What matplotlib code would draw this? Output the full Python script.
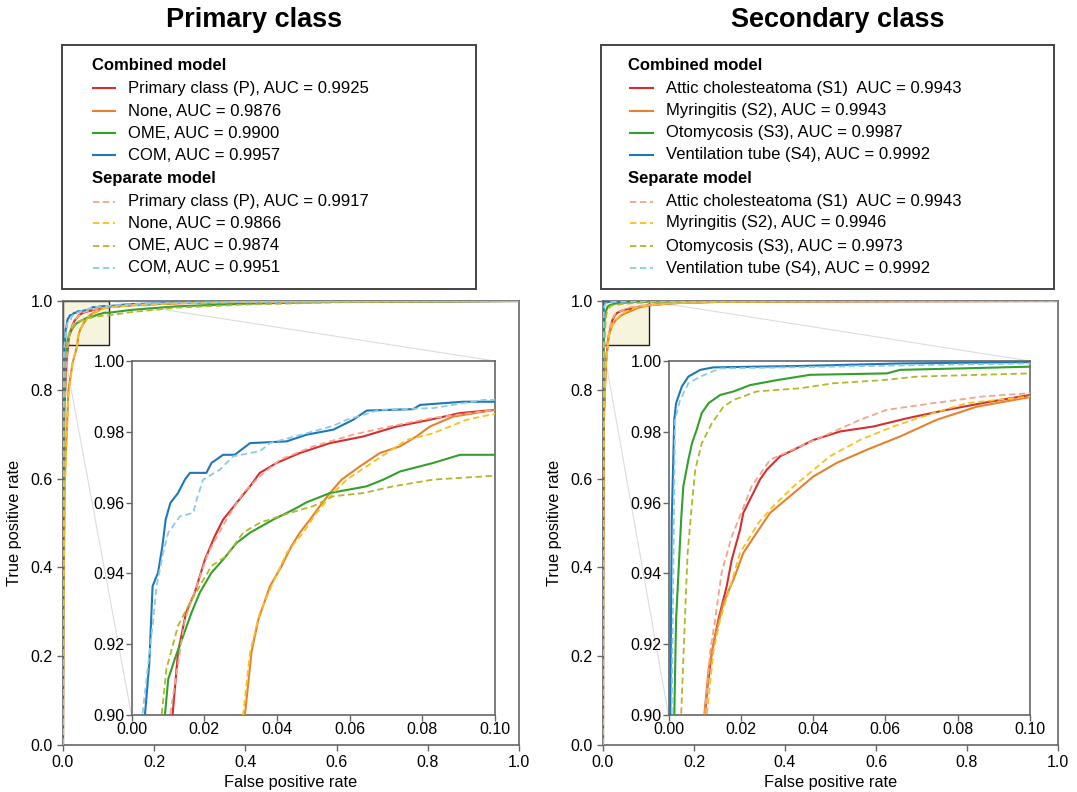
import matplotlib.pyplot as plt
from matplotlib.patches import Rectangle, ConnectionPatch
from matplotlib.lines import Line2D

plt.rcParams['font.family'] = ['Liberation Sans', 'DejaVu Sans']

W, H = 1077, 792

# ---------------- Primary class (left panel) ----------------
p_labels = ['Primary class (P)', 'None', 'OME', 'COM']
p_auc_comb = [0.9925, 0.9876, 0.9900, 0.9957]
p_auc_sep = [0.9917, 0.9866, 0.9874, 0.9951]

# combined model
pP_fpr = [0, 0.0005, 0.003, 0.0075, 0.0113, 0.0128, 0.0150, 0.0174, 0.0202, 0.0229, 0.0252, 0.0289, 0.0326,
          0.0353, 0.0399, 0.0463, 0.0546, 0.0638, 0.0729, 0.0821, 0.0904, 0.1000, 0.15, 0.25, 0.4, 0.6, 1.0]
pP_tpr = [0, 0.45, 0.75, 0.86, 0.900, 0.9177, 0.9289, 0.9346, 0.9439, 0.9505, 0.9552, 0.9599, 0.9646,
          0.9684, 0.9712, 0.9740, 0.9768, 0.9787, 0.9815, 0.9834, 0.9853, 0.9862, 0.991, 0.995, 0.998, 0.999, 1.0]
pN_fpr = [0, 0.001, 0.004, 0.012, 0.021, 0.0312, 0.0330, 0.0349, 0.0381, 0.0413, 0.0440, 0.0463, 0.0491, 0.0518,
          0.0546, 0.0578, 0.0628, 0.0683, 0.0739, 0.0784, 0.0821, 0.0885, 0.1000, 0.15, 0.25, 0.4, 0.6, 1.0]
pN_tpr = [0, 0.3, 0.6, 0.8, 0.86, 0.900, 0.9177, 0.9270, 0.9364, 0.9421, 0.9477, 0.9515, 0.9552, 0.9590,
          0.9627, 0.9665, 0.9702, 0.9740, 0.9759, 0.9787, 0.9815, 0.9843, 0.9862, 0.990, 0.995, 0.998, 0.999, 1.0]
pO_fpr = [0, 0.0005, 0.002, 0.005, 0.0092, 0.0101, 0.0119, 0.0142, 0.0165, 0.0188, 0.0220, 0.0252, 0.0289, 0.0326,
          0.0390, 0.0445, 0.0482, 0.0546, 0.0647, 0.0693, 0.0739, 0.0830, 0.0904, 0.1000, 0.15, 0.25, 0.4, 0.6, 1.0]
pO_tpr = [0, 0.5, 0.78, 0.87, 0.900, 0.9101, 0.9158, 0.9223, 0.9289, 0.9346, 0.9402, 0.9439, 0.9486, 0.9515,
          0.9552, 0.9580, 0.9601, 0.9627, 0.9646, 0.9665, 0.9688, 0.9712, 0.9735, 0.9735, 0.980, 0.988, 0.994, 0.998, 1.0]
pC_fpr = [0, 0.0003, 0.001, 0.002, 0.0037, 0.0049, 0.0058, 0.0073, 0.0085, 0.0094, 0.0107, 0.0128, 0.0147, 0.0161,
          0.0206, 0.0220, 0.0252, 0.0284, 0.0326, 0.0427, 0.0482, 0.0555, 0.0610, 0.0647, 0.0775, 0.0794, 0.0913,
          0.1000, 0.15, 0.25, 0.4, 0.6, 1.0]
pC_tpr = [0, 0.55, 0.8, 0.87, 0.900, 0.9148, 0.9364, 0.9402, 0.9477, 0.9552, 0.9599, 0.9627, 0.9665, 0.9684,
          0.9684, 0.9712, 0.9735, 0.9735, 0.9768, 0.9773, 0.9792, 0.9806, 0.9834, 0.9860, 0.9864, 0.9876, 0.9885,
          0.9885, 0.993, 0.996, 0.998, 0.999, 1.0]

# separate model
pP_fpr_s = [0, 0.0005, 0.003, 0.007, 0.0106, 0.0147, 0.0179, 0.0211, 0.0261, 0.0307, 0.0353, 0.0408, 0.0500,
            0.0610, 0.0711, 0.0821, 0.1000, 0.15, 0.25, 0.4, 0.6, 1.0]
pP_tpr_s = [0, 0.42, 0.74, 0.86, 0.900, 0.9270, 0.9364, 0.9458, 0.9552, 0.9627, 0.9674, 0.9721, 0.9759,
            0.9792, 0.9815, 0.9838, 0.9862, 0.991, 0.995, 0.998, 0.999, 1.0]
pN_fpr_s = [0, 0.001, 0.004, 0.012, 0.021, 0.0307, 0.0326, 0.0353, 0.0385, 0.0427, 0.0472, 0.0509, 0.0555, 0.0592,
            0.0702, 0.0757, 0.0830, 0.0922, 0.1000, 0.15, 0.25, 0.4, 0.6, 1.0]
pN_tpr_s = [0, 0.28, 0.58, 0.79, 0.86, 0.900, 0.9177, 0.9289, 0.9364, 0.9458, 0.9515, 0.9571, 0.9627, 0.9665,
            0.9740, 0.9777, 0.9796, 0.9834, 0.9851, 0.990, 0.995, 0.998, 0.999, 1.0]
pO_fpr_s = [0, 0.0005, 0.002, 0.005, 0.0083, 0.0096, 0.0128, 0.0156, 0.0220, 0.0261, 0.0307, 0.0353, 0.0436, 0.0500,
            0.0555, 0.0638, 0.0720, 0.0830, 0.1000, 0.15, 0.25, 0.4, 0.6, 1.0]
pO_tpr_s = [0, 0.5, 0.78, 0.87, 0.900, 0.9130, 0.9252, 0.9308, 0.9421, 0.9449, 0.9515, 0.9543, 0.9571, 0.9590,
            0.9618, 0.9627, 0.9646, 0.9665, 0.9676, 0.975, 0.985, 0.992, 0.997, 1.0]
pC_fpr_s = [0, 0.0003, 0.001, 0.0018, 0.0030, 0.0060, 0.0069, 0.0087, 0.0101, 0.0133, 0.0170, 0.0179, 0.0197, 0.0243,
            0.0280, 0.0353, 0.0381, 0.0482, 0.0555, 0.0592, 0.0683, 0.0830, 0.0968, 0.1000, 0.15, 0.25, 0.4, 0.6, 1.0]
pC_tpr_s = [0, 0.55, 0.8, 0.87, 0.900, 0.9270, 0.9364, 0.9458, 0.9515, 0.9561, 0.9571, 0.9608, 0.9665, 0.9693,
            0.9731, 0.9745, 0.9768, 0.9796, 0.9817, 0.9834, 0.9862, 0.9867, 0.9890, 0.9890, 0.993, 0.996, 0.998, 0.999, 1.0]

# ---------------- Secondary class (right panel) ----------------
s_labels = ['Attic cholesteatoma (S1) ', 'Myringitis (S2),', 'Otomycosis (S3),', 'Ventilation tube (S4),']
s_auc_comb = [0.9943, 0.9943, 0.9987, 0.9992]
s_auc_sep = [0.9943, 0.9946, 0.9973, 0.9992]

s1_fpr = [0, 0.0005, 0.002, 0.006, 0.0101, 0.0108, 0.0120, 0.0138, 0.0161, 0.0175, 0.0198, 0.0207, 0.0230, 0.0253,
          0.0272, 0.0309, 0.0346, 0.0401, 0.0475, 0.0567, 0.0659, 0.0770, 0.0889, 0.1000, 0.15, 0.25, 0.4, 0.6, 1.0]
s1_tpr = [0, 0.45, 0.75, 0.86, 0.900, 0.9083, 0.9177, 0.9270, 0.9364, 0.9439, 0.9524, 0.9571, 0.9618, 0.9665,
          0.9693, 0.9731, 0.9749, 0.9777, 0.9801, 0.9815, 0.9838, 0.9862, 0.9885, 0.9904, 0.995, 0.998, 0.999, 0.9995, 1.0]
s2_fpr = [0, 0.0005, 0.002, 0.006, 0.0099, 0.0111, 0.0129, 0.0152, 0.0180, 0.0207, 0.0244, 0.0281, 0.0336, 0.0401,
          0.0465, 0.0548, 0.0641, 0.0742, 0.0853, 0.1000, 0.15, 0.25, 0.4, 0.6, 1.0]
s2_tpr = [0, 0.42, 0.73, 0.85, 0.900, 0.9130, 0.9223, 0.9317, 0.9383, 0.9458, 0.9515, 0.9571, 0.9618, 0.9674,
          0.9712, 0.9749, 0.9787, 0.9834, 0.9871, 0.9898, 0.995, 0.998, 0.999, 0.9995, 1.0]
s3_fpr = [0, 0.0002, 0.0006, 0.001, 0.0016, 0.0021, 0.0028, 0.0035, 0.0041, 0.0055, 0.0065, 0.0078, 0.0092, 0.0111,
          0.0143, 0.0180, 0.0226, 0.0300, 0.0392, 0.0604, 0.0641, 0.0806, 0.1000, 0.2, 0.4, 1.0]
s3_tpr = [0, 0.5, 0.8, 0.87, 0.900, 0.9270, 0.9411, 0.9552, 0.9646, 0.9721, 0.9768, 0.9806, 0.9853, 0.9881,
          0.9904, 0.9914, 0.9932, 0.9946, 0.9961, 0.9965, 0.9975, 0.9979, 0.9984, 0.9995, 0.9999, 1.0]
s4_fpr = [0, 0.0001, 0.0003, 0.0005, 0.0009, 0.0016, 0.0021, 0.0037, 0.0055, 0.0088, 0.0124, 0.0364, 0.0641,
          0.1000, 0.3, 1.0]
s4_tpr = [0, 0.6, 0.85, 0.900, 0.9552, 0.9834, 0.9881, 0.9928, 0.9956, 0.9975, 0.9982, 0.9986, 0.9993,
          0.9997, 1.0, 1.0]

s1_fpr_s = [0, 0.0005, 0.002, 0.006, 0.0101, 0.0115, 0.0129, 0.0147, 0.0175, 0.0194, 0.0230, 0.0281, 0.0364,
            0.0447, 0.0530, 0.0604, 0.0733, 0.0871, 0.1000, 0.15, 0.25, 0.4, 0.6, 1.0]
s1_tpr_s = [0, 0.47, 0.76, 0.86, 0.900, 0.9177, 0.9270, 0.9402, 0.9505, 0.9552, 0.9646, 0.9721, 0.9759,
            0.9796, 0.9834, 0.9862, 0.9881, 0.9900, 0.9909, 0.995, 0.998, 0.999, 0.9995, 1.0]
s2_fpr_s = [0, 0.0005, 0.002, 0.006, 0.0106, 0.0124, 0.0143, 0.0171, 0.0198, 0.0249, 0.0290, 0.0346, 0.0447,
            0.0530, 0.0622, 0.0733, 0.0825, 0.1000, 0.15, 0.25, 0.4, 0.6, 1.0]
s2_tpr_s = [0, 0.42, 0.73, 0.85, 0.900, 0.9177, 0.9270, 0.9364, 0.9458, 0.9543, 0.9590, 0.9646, 0.9731,
            0.9777, 0.9815, 0.9853, 0.9881, 0.9900, 0.995, 0.998, 0.999, 0.9995, 1.0]
s3_fpr_s = [0, 0.0003, 0.001, 0.002, 0.0035, 0.0040, 0.0049, 0.0053, 0.0065, 0.0074, 0.0092, 0.0120, 0.0152, 0.0180,
            0.0244, 0.0364, 0.0456, 0.0594, 0.0687, 0.1000, 0.2, 0.4, 1.0]
s3_tpr_s = [0, 0.5, 0.8, 0.87, 0.900, 0.9130, 0.9364, 0.9458, 0.9599, 0.9693, 0.9768, 0.9824, 0.9871, 0.9890,
            0.9914, 0.9923, 0.9937, 0.9946, 0.9956, 0.9965, 0.999, 0.9998, 1.0]
s4_fpr_s = [0, 0.0002, 0.0005, 0.0007, 0.0009, 0.0018, 0.0032, 0.0055, 0.0088, 0.0143, 0.0456, 0.0733, 0.1000,
            0.3, 1.0]
s4_tpr_s = [0, 0.6, 0.85, 0.88, 0.900, 0.9834, 0.9890, 0.9937, 0.9956, 0.9979, 0.9984, 0.9989, 0.9993,
            1.0, 1.0]

comb_colors = ['#d62f2f', '#e8812f', '#33a02c', '#1f78b4']
sep_colors = ['#f4a48c', '#f7c21e', '#b3b72a', '#8ccbe8']


def px_x(x):
    return x / W


def px_y(y):
    return 1 - y / H


fig = plt.figure(figsize=(W / 100, H / 100), dpi=100)


def style_axes(a, size):
    for s in a.spines.values():
        s.set_color('#666666')
        s.set_linewidth(1.2)
    a.tick_params(labelsize=size, color='#666666', length=4, width=1)


def draw_curves(a, comb, sep):
    for (f, t), c in zip(comb, comb_colors):
        a.plot(f, t, color=c, lw=1.5, zorder=3)
    for (f, t), c in zip(sep, sep_colors):
        a.plot(f, t, color=c, lw=1.3, ls=(0, (3.5, 2)), zorder=4)


def draw_panel(ax_box, ins_box, comb, sep, title, tx, leg_box, labels, auc_c, auc_s, hx, lx, txx):
    ax = fig.add_axes(ax_box)
    draw_curves(ax, comb, sep)
    ax.set_xlim(0, 1)
    ax.set_ylim(0, 1)
    ax.set_xticks([0, 0.2, 0.4, 0.6, 0.8, 1.0])
    ax.set_yticks([0, 0.2, 0.4, 0.6, 0.8, 1.0])
    ax.set_xlabel('False positive rate', fontsize=11.8, labelpad=3)
    ax.set_ylabel('True positive rate', fontsize=11.8, labelpad=6)
    style_axes(ax, 11.5)
    ax.add_patch(Rectangle((0, 0.9), 0.1, 0.1, facecolor='#f7f4de', edgecolor='#222222', lw=1.0, zorder=2))

    axins = fig.add_axes(ins_box)
    axins.set_zorder(5)
    draw_curves(axins, comb, sep)
    axins.set_xlim(0, 0.1)
    axins.set_ylim(0.9, 1.0)
    axins.set_xticks([0, 0.02, 0.04, 0.06, 0.08, 0.10])
    axins.set_yticks([0.90, 0.92, 0.94, 0.96, 0.98, 1.00])
    axins.xaxis.set_major_formatter('{x:.2f}')
    axins.yaxis.set_major_formatter('{x:.2f}')
    axins.tick_params(pad=1)
    style_axes(axins, 11.5)

    for xy in [(0.1, 1.0), (0.0, 0.9)]:
        con = ConnectionPatch(xyA=xy, coordsA=ax.transData, xyB=xy, coordsB=axins.transData,
                              color='#dcdcdc', lw=0.8, zorder=1)
        ax.add_artist(con)

    fig.text(tx, px_y(20), title, ha='center', va='center', fontsize=19.5, fontweight='bold')

    # legend box drawn in figure coordinates
    x0, y0, x1, y1 = leg_box
    fig.add_artist(Rectangle((px_x(x0), px_y(y1)), px_x(x1) - px_x(x0), px_y(y0) - px_y(y1),
                             transform=fig.transFigure, facecolor='white', edgecolor='#444444', lw=1.4))
    rows = [65, 88, 111, 133, 155, 178, 202, 223, 246, 268]
    fig.text(px_x(hx), px_y(rows[0]), 'Combined model', fontsize=12, fontweight='bold', va='center')
    fig.text(px_x(hx), px_y(rows[5]), 'Separate model', fontsize=12, fontweight='bold', va='center')
    for i in range(4):
        for r, c, ls, auc in [(rows[1 + i], comb_colors[i], '-', auc_c[i]),
                              (rows[6 + i], sep_colors[i], (0, (3.5, 2)), auc_s[i])]:
            fig.add_artist(Line2D([px_x(lx[0]), px_x(lx[1])], [px_y(r), px_y(r)], color=c,
                                  lw=1.5 if ls == '-' else 1.3, ls=ls, transform=fig.transFigure))
            fig.text(px_x(txx), px_y(r), f'{labels[i]} AUC = {auc:.4f}', fontsize=12, va='center')


p_comb = [(pP_fpr, pP_tpr), (pN_fpr, pN_tpr), (pO_fpr, pO_tpr), (pC_fpr, pC_tpr)]
p_sep = [(pP_fpr_s, pP_tpr_s), (pN_fpr_s, pN_tpr_s), (pO_fpr_s, pO_tpr_s), (pC_fpr_s, pC_tpr_s)]
s_comb = [(s1_fpr, s1_tpr), (s2_fpr, s2_tpr), (s3_fpr, s3_tpr), (s4_fpr, s4_tpr)]
s_sep = [(s1_fpr_s, s1_tpr_s), (s2_fpr_s, s2_tpr_s), (s3_fpr_s, s3_tpr_s), (s4_fpr_s, s4_tpr_s)]

p_leg_labels = [lab + ',' for lab in p_labels]

draw_panel([px_x(63), px_y(745), (519 - 63) / W, (745 - 301) / H],
           [px_x(131.5), px_y(715), (495 - 131.5) / W, (715 - 361) / H],
           p_comb, p_sep, 'Primary class', px_x(254), (62, 45, 476, 289),
           p_leg_labels, p_auc_comb, p_auc_sep, 92, (93, 115), 128)

draw_panel([px_x(603), px_y(745), (1058 - 603) / W, (745 - 301) / H],
           [px_x(668.5), px_y(715), (1030 - 668.5) / W, (715 - 361) / H],
           s_comb, s_sep, 'Secondary class', px_x(838), (601, 45, 1054, 289),
           s_labels, s_auc_comb, s_auc_sep, 628, (630, 653), 666)

fig.savefig('out.png', dpi=100)
